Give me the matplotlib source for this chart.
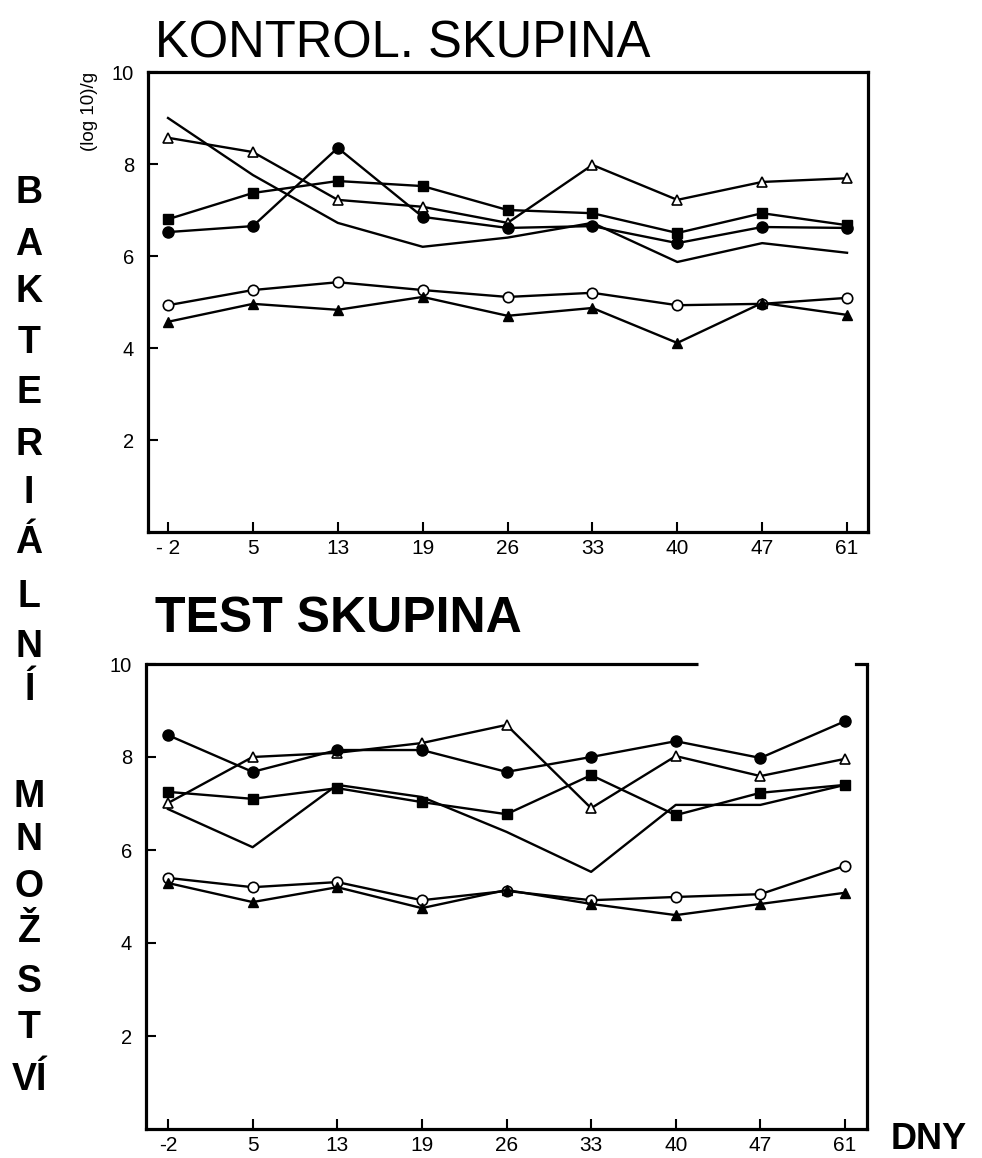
import matplotlib
matplotlib.use("Agg")
import matplotlib.pyplot as plt

days = ["-2", "5", "13", "19", "26", "33", "40", "47", "61"]
days_top_labels = ["- 2", "5", "13", "19", "26", "33", "40", "47", "61"]

# Kontrol. skupina
k_plain = [9.0, 7.76, 6.72, 6.2, 6.4, 6.72, 5.87, 6.28, 6.07]
k_open_tri = [8.57, 8.26, 7.22, 7.07, 6.72, 7.98, 7.22, 7.61, 7.69]
k_fill_sq = [6.8, 7.37, 7.63, 7.52, 7.0, 6.93, 6.5, 6.93, 6.67]
k_fill_circ = [6.52, 6.65, 8.35, 6.85, 6.61, 6.65, 6.28, 6.63, 6.61]
k_open_circ = [4.93, 5.26, 5.43, 5.26, 5.11, 5.2, 4.93, 4.96, 5.09]
k_fill_tri = [4.57, 4.96, 4.83, 5.11, 4.7, 4.87, 4.11, 4.98, 4.72]

# Test skupina
t_plain = [6.88, 6.06, 7.4, 7.14, 6.39, 5.53, 6.97, 6.97, 7.4]
t_open_tri = [7.01, 8.0, 8.09, 8.3, 8.69, 6.9, 8.02, 7.59, 7.96]
t_fill_sq = [7.25, 7.1, 7.33, 7.03, 6.77, 7.61, 6.75, 7.23, 7.4]
t_fill_circ = [8.47, 7.68, 8.15, 8.15, 7.68, 8.0, 8.34, 7.98, 8.77]
t_open_circ = [5.4, 5.2, 5.31, 4.92, 5.12, 4.92, 4.99, 5.05, 5.66]
t_fill_tri = [5.29, 4.88, 5.2, 4.75, 5.14, 4.84, 4.6, 4.84, 5.08]

yticks = [2, 4, 6, 8, 10]
side_letters = ["B", "A", "K", "T", "E", "R", "I", "Á", "L", "N", "Í",
                "M", "N", "O", "Ž", "S", "T", "VÍ"]
side_letter_y = [193, 245, 292, 343, 393, 445, 493, 543, 597, 647, 690,
                 797, 840, 887, 932, 982, 1028, 1080]

W, H = 982, 1158
fig = plt.figure(figsize=(W / 100, H / 100), dpi=100)
fig.patch.set_facecolor("white")

FONT = "Liberation Sans"
LW = 1.7
styles = [
    dict(marker=None),
    dict(marker="^", mfc="white", mec="black", ms=7.5, mew=1.2),
    dict(marker="s", mfc="black", mec="black", ms=6.5),
    dict(marker="o", mfc="black", mec="black", ms=8),
    dict(marker="o", mfc="white", mec="black", ms=7.5, mew=1.2),
    dict(marker="^", mfc="black", mec="black", ms=7.5),
]


def px_axes(left, right, top, bottom):
    return fig.add_axes([left / W, 1 - bottom / H, (right - left) / W, (bottom - top) / H])


def style_axes(ax, xlabels, partial_top=False):
    x = list(range(len(xlabels)))
    ax.set_xticks(x)
    ax.set_xticklabels(xlabels, family=FONT, fontsize=15)
    ax.set_yticks(yticks)
    ax.set_yticklabels([str(v) for v in yticks], family=FONT, fontsize=14.5)
    ax.tick_params(axis="both", direction="in", length=7, width=1.5, colors="black")
    ax.tick_params(axis="x", pad=5)
    ax.tick_params(axis="y", pad=10)
    for s in ax.spines.values():
        s.set_linewidth(2.3)
    if partial_top:
        ax.spines["top"].set_visible(False)
        ax.plot([0, 0.766], [1, 1], transform=ax.transAxes, color="black",
                lw=2.3, clip_on=False, solid_capstyle="butt")
        ax.plot([0.985, 1.0], [1.0, 1.0], transform=ax.transAxes, color="black",
                lw=2.3, clip_on=False)
        ax.spines["right"].set_bounds(0, 9.95)


# Top panel
ax1 = px_axes(148, 868, 72, 532)
series_top = [k_plain, k_open_tri, k_fill_sq, k_fill_circ, k_open_circ, k_fill_tri]
for vals, st in zip(series_top, styles):
    ax1.plot(range(len(days)), vals, color="black", lw=LW, **st)
ax1.set_xlim(-0.236, 8.247)
ax1.set_ylim(0, 10)
style_axes(ax1, days_top_labels)

# Bottom panel
ax2 = px_axes(146, 867, 664, 1129)
series_bot = [t_plain, t_open_tri, t_fill_sq, t_fill_circ, t_open_circ, t_fill_tri]
for vals, st in zip(series_bot, styles):
    ax2.plot(range(len(days)), vals, color="black", lw=LW, **st)
ax2.set_xlim(-0.26, 8.26)
ax2.set_ylim(0, 10)
style_axes(ax2, days, partial_top=True)

# Titles
fig.text(155 / W, 1 - 58 / H, "KONTROL. SKUPINA", family=FONT,
         fontsize=36.5, ha="left", va="baseline")
fig.text(155 / W, 1 - 632 / H, "TEST SKUPINA", family=FONT,
         fontweight="bold", fontsize=36, ha="left", va="baseline")
fig.text(891 / W, 1 - 1157 / H, "DNY", family=FONT,
         fontweight="bold", fontsize=26, ha="left", va="bottom")
fig.text(89 / W, 1 - 111 / H, "(log 10)/g", family=FONT,
         fontsize=13.5, rotation=90, ha="center", va="center")

for letter, yy in zip(side_letters, side_letter_y):
    fig.text(29 / W, 1 - yy / H, letter, family=FONT, fontweight="bold",
             fontsize=27, ha="center", va="center")

fig.savefig("out.png", dpi=100, facecolor="white")
